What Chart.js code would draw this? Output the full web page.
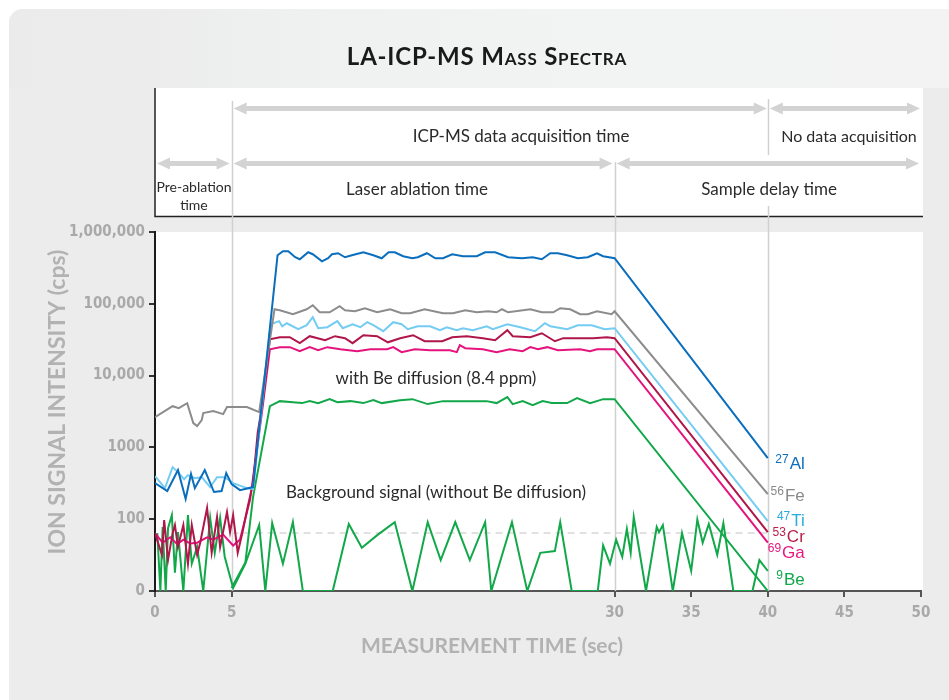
<!DOCTYPE html>
<html>
<head>
<meta charset="utf-8">
<script src="https://cdn.jsdelivr.net/npm/chart.js@4.4.1/dist/chart.umd.min.js"></script>
<style>
  html, body { margin: 0; padding: 0; background: #fff; }
  #wrap { position: relative; width: 949px; height: 700px; overflow: hidden; }
  .panel { position: absolute; left: 9px; top: 9px; width: 960px; height: 720px; border-radius: 14px; background: #ececec; overflow: hidden; }
  .band { height: 79px; background: linear-gradient(to right, #ebebeb 0%, #ececec 14%, #eff0f0 30%, #f2f3f3 60%, #f3f3f3 100%); }
  canvas { position: absolute; left: 0; top: 0; }
</style>
</head>
<body>
<div id="wrap">
  <div class="panel"><div class="band"></div></div>
  <canvas id="chart" width="949" height="700"></canvas>
</div>
<script>
// axis ticks
const xTicks = [0, 5, 30, 35, 40, 45, 50];
const yTicks = [10, 100, 1000, 10000, 100000, 1000000];
const yTickLabels = ['0', '100', '1000', '10,000', '100,000', '1,000,000'];

// 27Al
const alTime = [0, 0.8, 1.5, 2.0, 2.35, 2.6, 3.25, 3.85, 4.35, 4.65, 5.0, 5.55, 6.4, 8.0, 8.35, 8.7, 9.15, 9.45, 10.0, 10.3, 10.9, 11.3, 11.55, 11.95, 12.4, 12.85, 13.6, 14.25, 14.8, 15.25, 15.65, 16.2, 16.8, 17.15, 17.75, 18.3, 18.8, 19.4, 20.1, 21.0, 21.55, 22.2, 23.05, 23.95, 24.65, 25.25, 25.8, 26.3, 26.9, 27.6, 28.25, 28.85, 29.25, 30, 40];
const alCps = [318, 247, 483, 191, 425, 271, 483, 239, 247, 439, 308, 254, 280, 475000, 539000, 539000, 445000, 417000, 522000, 490000, 391000, 431000, 490000, 506000, 445000, 475000, 522000, 475000, 431000, 522000, 522000, 460000, 431000, 445000, 506000, 431000, 431000, 490000, 460000, 460000, 522000, 522000, 445000, 431000, 445000, 417000, 506000, 506000, 475000, 431000, 445000, 506000, 460000, 431000, 710];

// 56Fe
const feTime = [0, 1.15, 1.55, 2.1, 2.5, 2.75, 3.05, 3.15, 3.8, 4.45, 4.7, 6.0, 6.8, 7.8, 8.15, 9.0, 9.9, 10.3, 10.75, 11.4, 12.05, 12.4, 13.05, 13.7, 14.5, 15.35, 16.1, 16.65, 17.6, 18.8, 19.45, 20.25, 21.0, 21.75, 22.3, 22.65, 23.05, 24.5, 25.25, 26.0, 26.45, 27.1, 27.75, 28.25, 28.85, 29.8, 30, 40];
const feCps = [2640, 3750, 3520, 4130, 2180, 1980, 2400, 3000, 3200, 2910, 3640, 3640, 3100, 84000, 81300, 71600, 84000, 95500, 76200, 76200, 92500, 81300, 78700, 86800, 76200, 84000, 73900, 73900, 84000, 73900, 73900, 81300, 76200, 78700, 76200, 84000, 76200, 84000, 76200, 76200, 86800, 84000, 71600, 71600, 78700, 71600, 78700, 224];

// 47Ti
const tiTime = [0, 0.65, 1.15, 1.5, 1.9, 2.15, 2.6, 3.05, 3.6, 4.05, 4.55, 5.1, 6.0, 6.4, 7.55, 8.1, 8.3, 8.6, 9.35, 9.9, 10.3, 10.65, 11.25, 11.9, 12.25, 12.9, 13.4, 13.85, 14.25, 14.9, 15.55, 16.1, 16.5, 17.15, 17.95, 18.6, 19.05, 19.7, 20.1, 20.75, 21.65, 22.05, 23.0, 23.85, 24.8, 25.45, 25.8, 26.9, 27.6, 28.5, 29.35, 30, 40];
const tiCps = [398, 271, 531, 453, 361, 411, 373, 385, 280, 385, 385, 318, 271, 263, 51900, 57400, 48700, 53600, 44300, 50300, 65000, 45700, 47200, 57400, 45700, 51900, 47200, 55400, 50300, 41500, 55400, 51900, 44300, 48700, 48700, 42900, 47200, 42900, 45700, 42900, 48700, 44300, 51900, 47200, 41500, 53600, 48700, 44300, 50300, 50300, 44300, 45700, 94];

// 53Cr
const crTime = [0, 0.45, 0.6, 0.85, 1.15, 1.3, 1.5, 1.85, 2.15, 2.4, 2.75, 2.95, 3.4, 3.7, 4.05, 4.25, 4.7, 4.9, 5.1, 5.4, 5.7, 6.05, 6.4, 6.7, 7.05, 7.5, 8.15, 8.8, 9.45, 10.1, 11.1, 11.75, 12.4, 12.9, 13.6, 14.5, 15.2, 16.0, 16.85, 17.6, 18.75, 19.4, 20.35, 21.4, 22.2, 23.0, 23.35, 24.5, 25.25, 26.1, 26.65, 28.6, 29.5, 30, 40];
const crCps = [64, 32, 97, 27, 64, 83, 41, 83, 24, 83, 32, 47, 143, 34, 107, 41, 126, 66, 114, 34, 64, 148, 318, 1580, 4550, 32100, 34200, 34200, 28300, 35400, 31100, 35400, 33200, 28300, 36500, 35400, 29100, 33200, 36500, 30100, 30100, 34200, 35400, 33200, 31100, 42900, 35400, 34200, 38900, 30100, 33200, 33200, 34200, 33200, 66];

// 69Ga
const gaTime = [0, 0.5, 1.0, 1.45, 1.85, 2.3, 2.75, 3.4, 3.8, 4.45, 5.1, 5.55, 6.2, 6.65, 7.0, 7.5, 8.15, 8.8, 9.45, 10.1, 10.65, 11.25, 12.1, 13.2, 14.05, 15.15, 15.55, 16.1, 16.95, 17.95, 19.25, 19.7, 19.9, 20.25, 21.4, 22.3, 23.15, 24.0, 24.5, 25.0, 25.6, 26.3, 27.75, 28.4, 28.85, 30, 40];
const gaCps = [64, 47, 56, 45, 52, 46, 47, 56, 52, 61, 43, 52, 185, 916, 3300, 23300, 24900, 24900, 21900, 24900, 22600, 24900, 23300, 21900, 23300, 23300, 24900, 21200, 23300, 22600, 22600, 21200, 26500, 24100, 23300, 21200, 23300, 21900, 24900, 23300, 24900, 22600, 23300, 21900, 23300, 23300, 47];

// 9Be with diffusion (8.4 ppm)
const beTime = [5.0, 5.9, 6.4, 7.5, 8.15, 9.0, 9.6, 10.1, 10.65, 11.4, 11.9, 12.75, 13.6, 14.25, 14.8, 16.0, 16.8, 17.8, 18.8, 20.55, 21.65, 22.3, 23.0, 23.35, 24.0, 24.65, 25.3, 25.9, 26.3, 26.9, 27.55, 28.4, 29.25, 30, 40];
const beCps = [11, 25, 203, 3760, 4410, 4270, 4140, 4410, 4140, 4700, 4270, 4410, 4140, 4550, 4140, 4550, 4700, 4010, 4410, 4410, 4410, 4140, 5010, 4010, 4410, 3880, 4410, 4140, 4140, 4140, 4850, 4140, 4700, 4700, 10];

// 9Be background (without diffusion)
const bgTime = [0.15, 0.35, 0.5, 0.7, 0.85, 1.1, 1.3, 1.5, 1.85, 2.15, 2.4, 2.75, 3.15, 3.6, 3.9, 4.25, 4.55, 5.1, 5.9, 6.8, 7.2, 7.65, 8.35, 9.0, 9.65, 11.6, 12.65, 13.5, 14.55, 15.65, 16.8, 17.8, 18.65, 19.6, 20.55, 21.55, 21.95, 23.3, 24.3, 25.15, 26.1, 26.45, 27.2, 28.9, 29.25, 29.7, 30.1, 30.5, 30.8, 31.05, 31.25, 32.05, 32.75, 32.9, 33.15, 33.8, 34.4, 35.0, 35.4, 35.75, 36.15, 36.7, 37.1, 37.75, 39.0, 39.45, 40];
const bgCps = [64, 10, 78, 10, 75, 114, 18, 66, 10, 114, 24, 41, 10, 104, 34, 104, 30, 11, 24, 83, 10, 88, 24, 91, 10, 10, 86, 40, 61, 91, 10, 91, 27, 91, 27, 91, 10, 91, 10, 34, 36, 91, 10, 10, 43, 24, 52, 30, 73, 34, 107, 10, 78, 66, 83, 10, 64, 19, 99, 47, 86, 32, 88, 10, 10, 27, 19];

// dashed reference level
const refTime = [5, 40];
const refCps = [64, 64];

// isotope labels
const isoMass = ['27', '56', '47', '53', '69', '9'];
const isoName = ['Al', 'Fe', 'Ti', 'Cr', 'Ga', 'Be'];
const isoBase = [469, 501, 526, 542, 558, 585];
const isoColor = ['#0b6fbe', '#8a8a8a', '#29abe2', '#b81f4a', '#e6177f', '#12a84a'];

// timeline phases above the plot
const topRow = [[5, 40, 'ICP-MS data acquisition time'], [40, 50, 'No data acquisition']];
const lowRow = [[0, 5, 'Pre-ablation'], [5, 30, 'Laser ablation time'], [30, 50, 'Sample delay time']];

const pts = (t, v) => t.map((x, i) => ({ x: x, y: v[i] }));
const line = (label, t, v, color) => ({
  label: label, data: pts(t, v), borderColor: color, borderWidth: 2,
  pointRadius: 0, tension: 0, fill: false
});

const SERIF = 'Lato, "Open Sans", sans-serif';
const COND = '"DejaVu Sans Condensed", "Liberation Sans Narrow", Arial, sans-serif';

function arrow(ctx, x1, x2, y) {
  const head = 13, hh = 6, sh = 2.5;
  ctx.beginPath();
  ctx.moveTo(x1, y);
  ctx.lineTo(x1 + head, y - hh);
  ctx.lineTo(x1 + head, y - sh);
  ctx.lineTo(x2 - head, y - sh);
  ctx.lineTo(x2 - head, y - hh);
  ctx.lineTo(x2, y);
  ctx.lineTo(x2 - head, y + hh);
  ctx.lineTo(x2 - head, y + sh);
  ctx.lineTo(x1 + head, y + sh);
  ctx.lineTo(x1 + head, y + hh);
  ctx.closePath();
  ctx.fill();
}

const decor = {
  id: 'decor',
  beforeDraw(chart) {
    const { ctx, chartArea: a } = chart;
    ctx.save();
    ctx.fillStyle = '#fff';
    ctx.fillRect(a.left, a.top, a.right - a.left + 2, a.bottom - a.top);
    ctx.fillRect(a.left, 88, a.right - a.left + 2, 128);
    ctx.strokeStyle = '#222';
    ctx.lineWidth = 1.5;
    ctx.beginPath();
    ctx.moveTo(a.left, 88);
    ctx.lineTo(a.left, 216.5);
    ctx.lineTo(a.right + 2, 216.5);
    ctx.stroke();

    ctx.fillStyle = '#1a1a1a';
    ctx.font = 'small-caps bold 24px ' + SERIF;
    ctx.letterSpacing = '0.8px';
    ctx.textAlign = 'center';
    ctx.textBaseline = 'middle';
    ctx.fillText('LA-ICP-MS Mass Spectra', 487, 57);
    ctx.restore();
  },
  beforeDatasetsDraw(chart) {
    const { ctx, chartArea: a, scales: { x } } = chart;
    ctx.save();
    ctx.strokeStyle = '#d0d0d0';
    ctx.lineWidth = 1.5;
    const seg = [[5, 101, a.bottom], [30, 162, a.bottom], [40, 99, 155], [40, 206, a.bottom]];
    seg.forEach(([t, y1, y2]) => {
      const px = Math.round(x.getPixelForValue(t)) + 0.5;
      ctx.beginPath();
      ctx.moveTo(px, y1);
      ctx.lineTo(px, y2);
      ctx.stroke();
    });
    ctx.restore();
  },
  afterDraw(chart) {
    const { ctx, scales: { x } } = chart;
    ctx.save();
    // arrows
    ctx.fillStyle = '#d3d3d3';
    topRow.forEach(([t1, t2]) => arrow(ctx, x.getPixelForValue(t1) + 2, x.getPixelForValue(t2) - 1, 108.5));
    lowRow.forEach(([t1, t2]) => arrow(ctx, x.getPixelForValue(t1) + 2, x.getPixelForValue(t2) - 2, 163.5));

    ctx.fillStyle = '#2b2b2b';
    ctx.textAlign = 'center';
    ctx.textBaseline = 'middle';
    ctx.font = '17px ' + SERIF;
    ctx.fillText(topRow[0][2], 521, 137);
    ctx.fillText(lowRow[1][2], 417, 190);
    ctx.fillText(lowRow[2][2], 769, 190);
    ctx.font = '16px ' + SERIF;
    ctx.fillText(topRow[1][2], 849, 137);
    ctx.font = '14px ' + SERIF;
    ctx.fillText(lowRow[0][2], 194, 187);
    ctx.fillText('time', 194, 205);

    // annotations inside the plot
    ctx.font = '17px ' + SERIF;
    ctx.fillText('with Be diffusion (8.4 ppm)', 436, 379);
    ctx.fillText('Background signal (without Be diffusion)', 436, 493);

    // axis titles
    ctx.fillStyle = '#b2b2b2';
    ctx.font = 'bold 21px ' + SERIF;
    ctx.fillText('MEASUREMENT TIME (sec)', 492, 646);
    ctx.save();
    ctx.translate(58, 402);
    ctx.rotate(-Math.PI / 2);
    ctx.font = 'bold 23px ' + SERIF;
    ctx.fillText('ION SIGNAL INTENSITY (cps)', 0, 0);
    ctx.restore();

    // isotope labels
    const right = x.getPixelForValue(40) + 37;
    ctx.textAlign = 'right';
    ctx.textBaseline = 'alphabetic';
    isoName.forEach((n, i) => {
      ctx.fillStyle = isoColor[i];
      ctx.font = '17px "Liberation Sans", Arial, sans-serif';
      ctx.fillText(n, right, isoBase[i]);
      const w = ctx.measureText(n).width;
      ctx.font = '12px "Liberation Sans", Arial, sans-serif';
      ctx.fillText(isoMass[i], right - w - 1, isoBase[i] - 6);
    });
    ctx.restore();
  }
};

new Chart(document.getElementById('chart'), {
  type: 'line',
  data: {
    datasets: [
      line('27Al', alTime, alCps, '#0a6ebd'),
      line('56Fe', feTime, feCps, '#8c8c8c'),
      line('47Ti', tiTime, tiCps, '#74ccf2'),
      line('53Cr', crTime, crCps, '#b0164a'),
      line('69Ga', gaTime, gaCps, '#e5137d'),
      line('9Be diffusion', beTime, beCps, '#12a84a'),
      line('9Be background', bgTime, bgCps, '#12a84a'),
      Object.assign(line('level', refTime, refCps, '#d8d8d8'), { borderDash: [7, 5], borderWidth: 1.5 })
    ]
  },
  options: {
    responsive: false,
    animation: false,
    layout: { padding: { top: 232, right: 28, left: 0, bottom: 0 } },
    plugins: { legend: { display: false }, tooltip: { enabled: false }, title: { display: false } },
    scales: {
      x: {
        type: 'linear', min: 0, max: 50,
        afterBuildTicks: s => { s.ticks = xTicks.map(v => ({ value: v })); },
        afterFit: s => { s.height = 109; },
        grid: { drawOnChartArea: false, tickLength: 6, color: '#555', lineWidth: 2 },
        border: { color: '#555', width: 2 },
        ticks: { color: '#a9a9a9', font: { family: COND, size: 15, weight: 'bold' }, padding: 7, maxRotation: 0, autoSkip: false }
      },
      y: {
        type: 'logarithmic', min: 10, max: 1000000,
        afterBuildTicks: s => { s.ticks = yTicks.map(v => ({ value: v })); },
        afterFit: s => { s.width = 155; },
        grid: { drawOnChartArea: false, tickLength: 6, color: '#333', lineWidth: 2 },
        border: { color: '#1a1a1a', width: 2 },
        ticks: {
          color: '#a9a9a9', font: { family: COND, size: 15, weight: 'bold' }, padding: 4, autoSkip: false,
          callback: v => yTickLabels[yTicks.indexOf(v)]
        }
      }
    }
  },
  plugins: [decor]
});
</script>
</body>
</html>
